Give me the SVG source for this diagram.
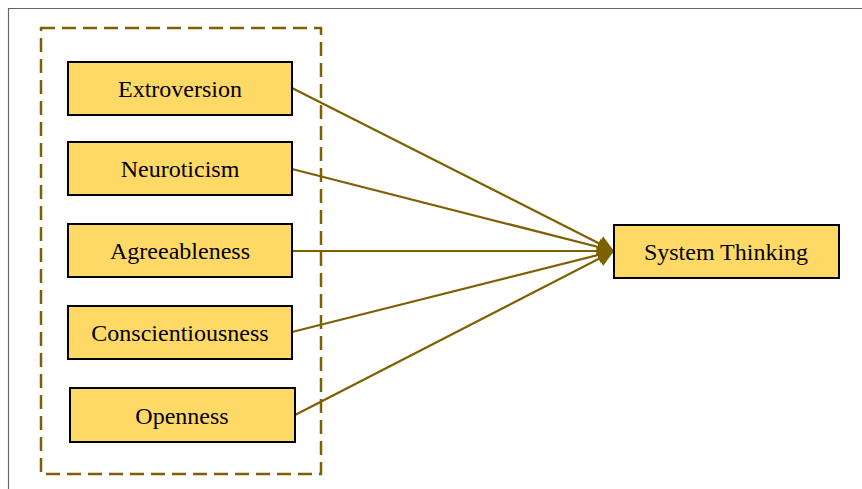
<svg xmlns="http://www.w3.org/2000/svg" width="862" height="489" viewBox="0 0 862 489">
<style>
.box{fill:#FFD966;stroke:#000;stroke-width:2}
.lbl{font-family:"Liberation Serif","Times New Roman",serif;font-size:24px;fill:#000;text-anchor:middle}
.conn{stroke:#7F6000;stroke-width:2.2;fill:none}
</style>
<defs>
<marker id="ah" viewBox="0 0 10 10" refX="10" refY="5" markerWidth="7.5" markerHeight="8.5" orient="auto" markerUnits="strokeWidth">
<path d="M0,0 L10,5 L0,10 z" fill="#7F6000"/>
</marker>
</defs>
<rect x="0" y="0" width="862" height="489" fill="#fff"/>
<path d="M8.5,489 V8.5 H862" fill="none" stroke="#666" stroke-width="1.2"/>
<rect id="group" x="41" y="28" width="280" height="446" fill="none" stroke="#7F6000" stroke-width="2.5" stroke-dasharray="14,7"/>
<g id="connectors">
<line class="conn" x1="292" y1="88" x2="614" y2="251" marker-end="url(#ah)"/>
<line class="conn" x1="292" y1="169" x2="614" y2="251" marker-end="url(#ah)"/>
<line class="conn" x1="292" y1="251" x2="614" y2="251" marker-end="url(#ah)"/>
<line class="conn" x1="292" y1="332" x2="614" y2="251" marker-end="url(#ah)"/>
<line class="conn" x1="295" y1="415" x2="614" y2="251" marker-end="url(#ah)"/>
</g>
<g id="extroversion"><rect class="box" x="68" y="62" width="224" height="53"/><text class="lbl" x="180" y="97">Extroversion</text></g>
<g id="neuroticism"><rect class="box" x="68" y="142" width="224" height="53"/><text class="lbl" x="180" y="177">Neuroticism</text></g>
<g id="agreeableness"><rect class="box" x="68" y="224" width="224" height="53"/><text class="lbl" x="180" y="259">Agreeableness</text></g>
<g id="conscientiousness"><rect class="box" x="68" y="306" width="224" height="53"/><text class="lbl" x="180" y="341">Conscientiousness</text></g>
<g id="openness"><rect class="box" x="70" y="388" width="225" height="54"/><text class="lbl" x="182" y="424">Openness</text></g>
<g id="system-thinking"><rect class="box" x="614" y="225" width="225" height="53"/><text class="lbl" x="726" y="260">System Thinking</text></g>
</svg>
